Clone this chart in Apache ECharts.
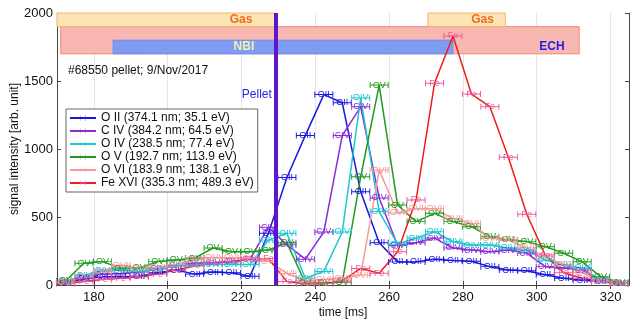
<!DOCTYPE html>
<html><head><meta charset="utf-8">
<script src="https://cdn.jsdelivr.net/npm/echarts@6/dist/echarts.min.js"></script>
<style>html,body{margin:0;padding:0;background:#fff}#c{width:640px;height:325px}</style>
</head><body><div id="c"></div>
<script>
// ---- data ----
const times = [167.3,172.3,177.3,182.3,187.3,192.3,197.3,202.3,207.3,212.3,217.3,222.3,227.3,232.3,237.3,242.3,247.3,252.3,257.3,262.3,267.3,272.3,277.3,282.3,287.3,292.3,297.3,302.3,307.3,312.3,317.3,322.3];
const oII  = [5,15,45,60,60,65,90,110,80,95,90,65,380,790,1100,1400,1340,685,310,170,170,190,180,175,135,110,105,75,50,35,25,12];
const cIV  = [5,20,55,80,85,95,120,145,160,165,170,190,425,295,190,390,1100,1310,640,290,310,345,272,257,245,257,235,135,125,110,30,10];
const oIV  = [5,25,70,110,110,100,120,140,150,150,150,150,330,380,50,100,390,1375,540,300,345,392,318,294,294,272,257,184,147,125,35,12];
const oV   = [10,30,160,172,123,125,172,184,198,272,245,245,257,310,15,15,20,796,1470,588,466,527,466,429,355,331,319,282,233,171,61,20];
const oVI  = [5,20,60,100,145,120,130,150,190,200,200,195,175,85,30,40,50,73,845,530,560,560,490,453,343,331,272,208,147,90,25,10];
const feXVI= [3,10,25,40,50,60,80,110,140,160,175,190,195,25,10,10,30,122,86,245,625,1483,1831,1404,1311,939,520,220,90,50,25,10];

const seriesNames = ['O II (374.1 nm; 35.1 eV)','C IV (384.2 nm; 64.5 eV)','O IV (238.5 nm; 77.4 eV)','O V (192.7 nm; 113.9 eV)','O VI (183.9 nm; 138.1 eV)','Fe XVI (335.3 nm; 489.3 eV)'];
const markerTexts = ['OII','CIV','OIV','OV','OVI','Fe'];
const seriesValues = [oII,cIV,oIV,oV,oVI,feXVI];

const xTicks = [180,200,220,240,260,280,300,320];
const yTicks = [0,500,1000,1500,2000];
const pelletTime = 229.3;
const pelletLabelY = 1400;
const gasPeriods = [[170,229.3],[270.5,291.5]];
const gasBand = [1900,2000];
const echPeriod = [171,311.5];
const echBand = [1700,1900];
const nbiPeriod = [185.2,277.3];
const nbiBand = [1700,1800];
const shotText = '#68550 pellet; 9/Nov/2017';

// ---- styles ----
const FONT = 'Liberation Sans, Arial, sans-serif';
const lineColors = ['#1717e0','#8a2ad8','#1cc6d2','#1f9a1f','#f49a9a','#ee1c1c'];
const markColors = ['#1717e0','#8a2ad8','#1cc6d2','#1f9a1f','#f49a9a','#f0589c'];
const errSym = 'path://M0,0h2v10h-2z M2,4.2h36v1.6h-36z M38,0h2v10h-2z';

const chart = echarts.init(document.getElementById('c'), null, {renderer:'canvas'});

const lineSeries = seriesNames.map((nm,i)=>({
  name:nm, type:'line', z:3,
  data: times.map((t,k)=>[t, seriesValues[i][k]]),
  symbol: errSym, symbolSize:[19,6], showAllSymbol:true, symbolKeepAspect:false,
  lineStyle:{color:lineColors[i], width:1.5},
  itemStyle:{color:markColors[i]},
  label:{show:true, position:'inside', formatter:markerTexts[i], color:markColors[i], fontSize:9, fontFamily:FONT},
  emphasis:{disabled:true}, animation:false
}));

const annot = {
  name:'annot', type:'line', data:[], z:1, animation:false,
  markArea:{silent:true, data:[
    [{coord:[echPeriod[0],echBand[0]], itemStyle:{color:'#f9b7b1', borderColor:'#f08a78', borderWidth:1},
      label:{show:true, position:'insideRight', formatter:'ECH', distance:15, offset:[0,6], color:'#1e1ee6', fontWeight:'bold', fontSize:12, fontFamily:FONT}},
     {coord:[echPeriod[1],echBand[1]]}],
    [{coord:[nbiPeriod[0],nbiBand[0]], itemStyle:{color:'#7f9cf3', borderColor:'#6d8cee', borderWidth:1},
      label:{show:true, position:'insideLeft', formatter:'NBI', distance:0, offset:[121,0], color:'#f2f2b0', fontWeight:'bold', fontSize:12, fontFamily:FONT}},
     {coord:[nbiPeriod[1],nbiBand[1]]}],
    [{coord:[gasPeriods[0][0],gasBand[0]], itemStyle:{color:'#fde4b4', borderColor:'#f5b46a', borderWidth:1},
      label:{show:true, position:'insideRight', formatter:'Gas', distance:24, color:'#f26a1e', fontWeight:'bold', fontSize:12, fontFamily:FONT}},
     {coord:[gasPeriods[0][1],gasBand[1]]}],
    [{coord:[gasPeriods[1][0],gasBand[0]], itemStyle:{color:'#fde4b4', borderColor:'#f5b46a', borderWidth:1},
      label:{show:true, position:'insideRight', formatter:'Gas', distance:12, color:'#f26a1e', fontWeight:'bold', fontSize:12, fontFamily:FONT}},
     {coord:[gasPeriods[1][1],gasBand[1]]}]
  ]},
  markLine:{silent:true, symbol:['none','none'], label:{show:false}, z:4,
    lineStyle:{color:'#5b17c9', width:4, type:'solid'}, data:[{xAxis:pelletTime}]},
  markPoint:{silent:true, symbol:'circle', symbolSize:0,
    label:{show:true, position:'left', distance:4, formatter:'Pellet', color:'#2626e0', fontSize:12, fontFamily:FONT},
    data:[{coord:[pelletTime, pelletLabelY]}]}
};

const axisLineStyle = {show:true, lineStyle:{color:'#444', width:1}};
chart.setOption({
  animation:false,
  backgroundColor:'#fff',
  textStyle:{fontFamily:FONT},
  title:{text:shotText, left:63, top:60, textStyle:{fontSize:12, fontWeight:'normal', color:'#111', fontFamily:FONT}},
  grid:{left:57, right:11, top:13, bottom:40, containLabel:false, outerBoundsMode:'none'},
  legend:{
    data:seriesNames, orient:'vertical', left:66, top:109,
    backgroundColor:'#fff', borderColor:'#666', borderWidth:1, padding:[3,4,3,3],
    itemWidth:26, itemHeight:7, itemGap:1,
    textStyle:{fontSize:12, color:'#111', fontFamily:FONT, lineHeight:12}
  },
  xAxis:[
    {type:'value', min:170, max:325, position:'bottom',
     name:'time [ms]', nameLocation:'middle', nameGap:22, nameMoveOverlap:false, nameTextStyle:{fontSize:12, color:'#111'},
     axisLine:axisLineStyle,
     axisTick:{inside:true, length:4, customValues:xTicks, lineStyle:{color:'#444'}},
     axisLabel:{customValues:xTicks, fontSize:13, color:'#111', margin:6, formatter:v=>String(v)},
     splitLine:{show:true, lineStyle:{color:'#e3e3f0', width:1}}},
    {type:'value', min:170, max:325, position:'top',
     axisLine:axisLineStyle,
     axisTick:{inside:true, length:4, customValues:xTicks, lineStyle:{color:'#444'}},
     axisLabel:{show:false}, splitLine:{show:false}}
  ],
  yAxis:[
    {type:'value', min:0, max:2000, interval:500, position:'left',
     name:'signal intensity [arb. unit]', nameLocation:'middle', nameGap:36, nameMoveOverlap:false, nameTextStyle:{fontSize:12, color:'#111'},
     axisLine:axisLineStyle,
     axisTick:{inside:true, length:4, customValues:yTicks, lineStyle:{color:'#444'}},
     axisLabel:{customValues:yTicks, fontSize:13, color:'#111', margin:4, formatter:v=>String(v)},
     splitLine:{show:false}},
    {type:'value', min:0, max:2000, interval:500, position:'right',
     axisLine:axisLineStyle,
     axisTick:{inside:true, length:4, customValues:yTicks, lineStyle:{color:'#444'}},
     axisLabel:{show:false}, splitLine:{show:false}}
  ],
  series:[annot].concat(lineSeries)
});
</script></body></html>
